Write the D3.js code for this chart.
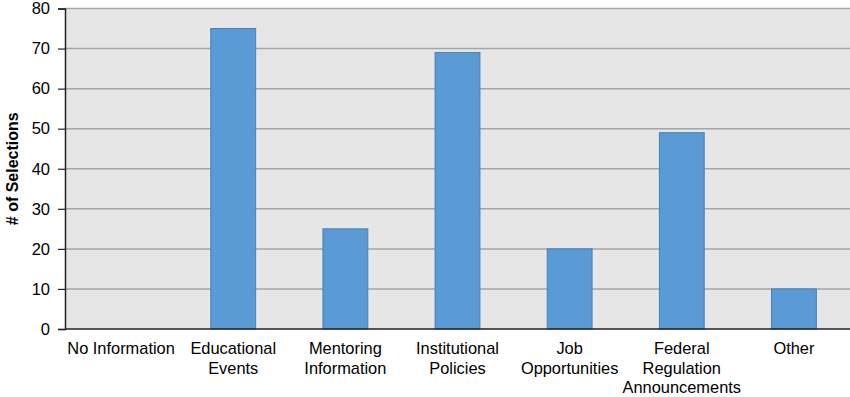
<!DOCTYPE html>
<html>
<head>
<meta charset="utf-8">
<script src="https://cdn.jsdelivr.net/npm/d3@7"></script>
<style>
  body { margin: 0; background: #fff; }
  text { font-family: "Liberation Sans", Arial, sans-serif; fill: #000; }
</style>
</head>
<body>
<svg id="chart"></svg>
<script>
// données
var categories = [["No Information"], ["Educational", "Events"], ["Mentoring", "Information"],
    ["Institutional", "Policies"], ["Job", "Opportunities"], ["Federal", "Regulation", "Announcements"], ["Other"]];
var selections = [0, 75, 25, 69, 20, 49, 10];
var yTicks = [0, 10, 20, 30, 40, 50, 60, 70, 80];

var width = 850, height = 397;
var margin = {top: 8.5, right: 0, bottom: 68, left: 65};

var svg = d3.select("#chart").attr("width", width).attr("height", height);

var x = d3.scaleBand()
    .domain(d3.range(categories.length))
    .range([margin.left, width - margin.right])
    .paddingInner(0.6).paddingOuter(0.3);

var y = d3.scaleLinear().domain([0, 80]).range([height - margin.bottom, margin.top]);

// fond gris
svg.append("rect")
    .attr("x", margin.left).attr("y", margin.top)
    .attr("width", width - margin.left - margin.right)
    .attr("height", y(0) - margin.top)
    .attr("fill", "#e6e6e6");

// grille
svg.selectAll("line.grid")
    .data(yTicks.slice(1))
    .enter().append("line")
    .attr("class", "grid")
    .attr("x1", margin.left).attr("x2", width)
    .attr("y1", d => y(d)).attr("y2", d => y(d))
    .attr("stroke", "#a6a6a6").attr("stroke-width", 1.5);

// barres
svg.selectAll("rect.bar")
    .data(selections)
    .enter().append("rect")
    .attr("class", "bar")
    .attr("x", (d, i) => x(i))
    .attr("width", x.bandwidth())
    .attr("y", d => y(d))
    .attr("height", d => y(0) - y(d))
    .attr("fill", "#5b9bd5")
    .attr("stroke", "#4a7fb0").attr("stroke-width", 1)
    .attr("display", d => d > 0 ? null : "none");

// axe y
var yAxis = svg.append("g")
    .attr("transform", "translate(" + margin.left + ",0)")
    .call(d3.axisLeft(y).tickValues(yTicks).tickSize(7).tickPadding(8));
yAxis.select(".domain").attr("stroke", "#222").attr("stroke-width", 1.5);
yAxis.selectAll(".tick line").attr("stroke", "#222").attr("stroke-width", 1.2);
yAxis.selectAll(".tick text").attr("font-size", 16.5).style("font-family", "Liberation Sans, Arial, sans-serif");

// axe x
svg.append("line")
    .attr("x1", margin.left).attr("x2", width)
    .attr("y1", y(0)).attr("y2", y(0))
    .attr("stroke", "#222").attr("stroke-width", 1.5);

var labels = svg.selectAll("text.cat")
    .data(categories)
    .enter().append("text")
    .attr("class", "cat")
    .attr("text-anchor", "middle")
    .attr("font-size", 16.4)
    .attr("x", (d, i) => x(i) + x.bandwidth() / 2)
    .attr("y", y(0) + 25);
labels.selectAll("tspan")
    .data(d => d)
    .enter().append("tspan")
    .attr("x", function () { return d3.select(this.parentNode).attr("x"); })
    .attr("dy", (d, i) => i === 0 ? 0 : 19.7)
    .text(d => d);

// titre axe y
svg.append("text")
    .attr("transform", "translate(18," + ((y(0) + margin.top) / 2) + ") rotate(-90)")
    .attr("text-anchor", "middle")
    .attr("font-size", 16)
    .attr("font-weight", "bold")
    .text("# of Selections");
</script>
</body>
</html>
